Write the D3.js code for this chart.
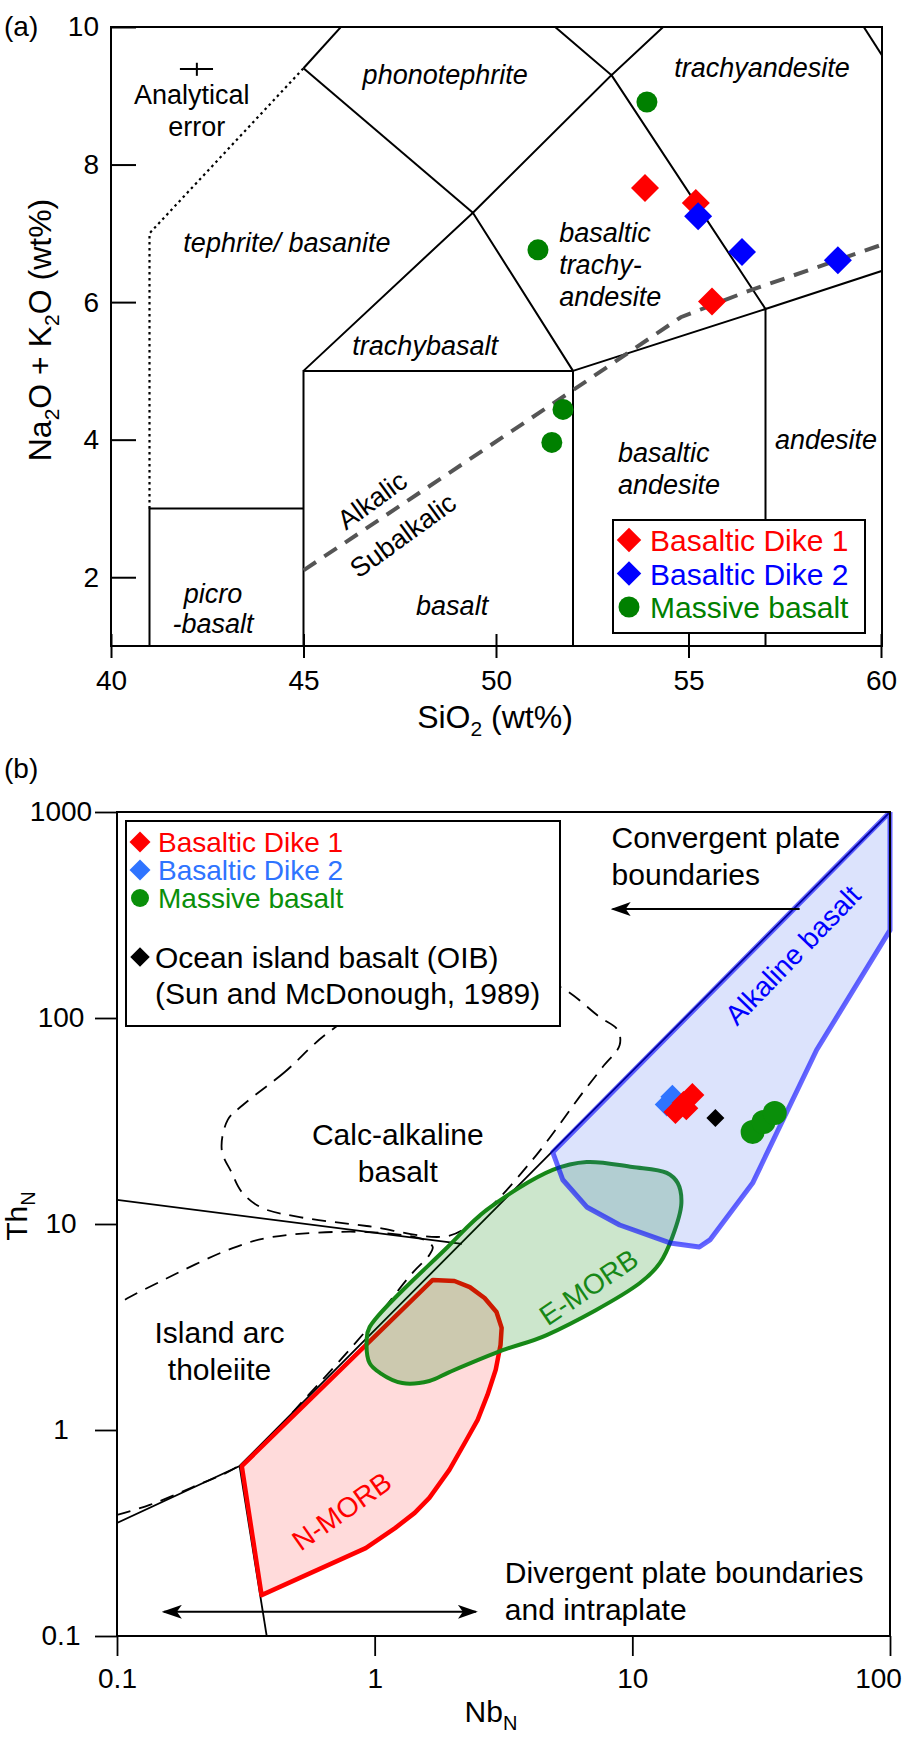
<!DOCTYPE html>
<html>
<head>
<meta charset="utf-8">
<script src="https://d3js.org/d3.v7.min.js"></script>
<style>
body { margin: 0; background: #fff; }
text { font-family: "Liberation Sans", Arial, sans-serif; fill: #000; }
</style>
</head>
<body>
<div id="chart"></div>
<script>
// ---------- (a) TAS data ----------
const tasXTicks = [40, 45, 50, 55, 60];
const tasYTicks = [2, 4, 6, 8, 10];
const dike1Tas = [[53.87, 7.66], [55.19, 7.44], [55.61, 6.01]];
const dike2Tas = [[55.25, 7.25], [56.39, 6.73], [58.88, 6.61]];
const massiveTas = [[53.92, 8.91], [51.09, 6.76], [51.74, 4.44], [51.45, 3.96]];

// field boundaries (SiO2, Na2O+K2O)
const tasLines = [
    [[41, 1], [41, 3], [45, 3]],
    [[45, 1], [45, 5], [52, 5], [52, 1]],
    [[52, 5], [57, 5.9], [57, 1]],
    [[57, 5.9], [63, 7]],
    [[45, 5], [49.4, 7.3], [52, 5]],
    [[49.4, 7.3], [53, 9.3], [57, 5.9]],
    [[45, 9.4], [49.4, 7.3]],
    [[45, 9.4], [48.4, 11.5]],
    [[48.4, 11.5], [53, 9.3], [57.6, 11.7]],
    [[57.6, 11.7], [63, 7]]
];
const tasDotted = [[41, 3], [41, 7], [45, 9.4]];
const alkalicLine = [[45, 2.1], [52, 4.72], [54.8, 5.78], [56.5, 6.15], [60, 6.83]];

const tasFieldNames = [
    {t: "phonotephrite", x: 48.68, y: 9.17, a: "middle"},
    {t: "trachyandesite", x: 56.91, y: 9.27, a: "middle"},
    {t: "tephrite/ basanite", x: 44.57, y: 6.73, a: "middle"},
    {t: "basaltic", x: 51.64, y: 6.87, a: "start"},
    {t: "trachy-", x: 51.64, y: 6.41, a: "start"},
    {t: "andesite", x: 51.64, y: 5.94, a: "start"},
    {t: "trachybasalt", x: 48.16, y: 5.23, a: "middle"},
    {t: "basaltic", x: 53.17, y: 3.67, a: "start"},
    {t: "andesite", x: 53.17, y: 3.21, a: "start"},
    {t: "andesite", x: 58.57, y: 3.86, a: "middle"},
    {t: "basalt", x: 48.86, y: 1.45, a: "middle"},
    {t: "picro", x: 42.65, y: 1.62, a: "middle"},
    {t: "-basalt", x: 42.65, y: 1.19, a: "middle"}
];

// ---------- (b) Th-Nb data ----------
const nbTicks = [0.1, 1, 10, 100];
const thTicks = [0.1, 1, 10, 100, 1000];
const dike1Nb = [[14.7, 35.0], [15.8, 38.7], [17.1, 42.3], [16.2, 36.5]];
const dike2Nb = [[13.6, 38.0], [14.3, 41.5]];
const massiveNb = [[29.3, 28.0], [32.3, 31.3], [35.7, 34.6]];
const oibNb = [[21.0, 32.7]];

const nMorb = [[0.305, 0.668], [1.68, 5.35], [2.04, 5.29], [2.34, 4.94], [2.67, 4.37], [2.97, 3.74],
    [3.11, 3.13], [3.08, 2.59], [2.95, 1.96], [2.74, 1.48], [2.51, 1.12], [2.27, 0.894], [1.95, 0.64],
    [1.63, 0.468], [1.43, 0.396], [1.20, 0.334], [0.923, 0.267], [0.364, 0.158]];
const eMorb = [[0.931, 2.73], [0.956, 2.11], [1.05, 1.89], [1.28, 1.69], [1.63, 1.73], [1.95, 1.91],
    [3.14, 2.44], [4.65, 2.89], [10.7, 5.17], [12.8, 6.47], [14.3, 8.65], [15.5, 12.6], [15.0, 15.8],
    [13.6, 17.7], [10.0, 18.9], [6.65, 20.0], [4.91, 18.3], [2.72, 11.7], [1.92, 7.73], [0.956, 3.16]];
const alkBasalt = [[4.91, 22.3], [100, 1000], [100, 267], [51.9, 69.9], [29.3, 15.8], [20.0, 8.37],
    [18.2, 7.73], [14.0, 8.09], [8.93, 9.89], [6.65, 12.1], [5.37, 16.4]];
const solidLines = [
    [[0.1, 0.354], [0.299, 0.669], [100, 1000]],
    [[0.299, 0.669], [0.381, 0.1]],
    [[0.1, 13.1], [2.18, 8.0]]
];
const calcAlkLoop = [[0.657, 84.6], [0.448, 54.7], [0.308, 37.8], [0.269, 32.0], [0.255, 22.9], [0.279, 17.7],
    [0.305, 14.3], [0.364, 12.0], [0.512, 10.8], [0.931, 9.78], [1.92, 8.74], [2.55, 10.8], [4.10, 20.5],
    [6.41, 43.3], [7.67, 57.8], [8.93, 73.9], [8.77, 87.5], [7.47, 101], [5.32, 140], [3.65, 162], [1.25, 137]];
const iatLine = [[0.1, 0.387], [0.134, 0.433], [0.197, 0.529], [0.308, 0.692], [0.545, 1.45], [0.931, 3.06],
    [1.40, 5.78], [1.63, 7.07], [1.68, 7.73], [1.56, 8.36], [0.931, 9.14], [0.402, 8.65], [0.281, 7.64],
    [0.146, 5.23], [0.107, 4.28], [0.1, 4.04]];

const W = 902, H = 1741;
const RED = "#ff0000", BLUE_A = "#0000ff", GREEN_A = "#008000";
const BLUE_B = "#2f74ff", GREEN_B = "#0a8f0a";

const svg = d3.select("#chart").append("svg").attr("width", W).attr("height", H);
const defs = svg.append("defs");

// diamond = square turned 45 degrees
function diamond(g, data, xs, ys, diag, color) {
    const side = diag / Math.SQRT2;
    g.selectAll(null).data(data).enter().append("path")
        .attr("d", d3.symbol(d3.symbolSquare, side * side))
        .attr("transform", d => `translate(${xs(d[0])},${ys(d[1])}) rotate(45)`)
        .attr("fill", color);
}
function dots(g, data, xs, ys, r, color) {
    g.selectAll(null).data(data).enter().append("circle")
        .attr("cx", d => xs(d[0])).attr("cy", d => ys(d[1])).attr("r", r)
        .attr("fill", color);
}

// ================= (a) =================
const ma = {left: 111, right: 881, top: 27, bottom: 646};
const xA = d3.scaleLinear().domain([40, 60]).range([ma.left, ma.right]);
const yA = d3.scaleLinear().domain([1, 10]).range([ma.bottom, ma.top]);
const lineA = d3.line().x(d => xA(d[0])).y(d => yA(d[1]));

defs.append("clipPath").attr("id", "clipA").append("rect")
    .attr("x", ma.left).attr("y", ma.top).attr("width", ma.right - ma.left + 1).attr("height", ma.bottom - ma.top);

const gA = svg.append("g");
const plotA = gA.append("g").attr("clip-path", "url(#clipA)");

plotA.selectAll(null).data(tasLines).enter().append("path")
    .attr("d", lineA).attr("fill", "none").attr("stroke", "#000").attr("stroke-width", 2);

plotA.append("path").attr("d", lineA(tasDotted)).attr("fill", "none")
    .attr("stroke", "#000").attr("stroke-width", 2.2).attr("stroke-dasharray", "2.5,3.5");

plotA.append("path").attr("d", lineA(alkalicLine)).attr("fill", "none")
    .attr("stroke", "#555").attr("stroke-width", 4).attr("stroke-dasharray", "15,10");

gA.selectAll(null).data(tasFieldNames).enter().append("text")
    .attr("x", d => xA(d.x)).attr("y", d => yA(d.y))
    .attr("text-anchor", d => d.a)
    .style("font-size", "27px").style("font-style", "italic")
    .text(d => d.t);

// analytical error cross
gA.append("line").attr("x1", xA(41.79)).attr("x2", xA(42.65)).attr("y1", yA(9.39)).attr("y2", yA(9.39))
    .attr("stroke", "#000").attr("stroke-width", 2);
gA.append("line").attr("x1", xA(42.23)).attr("x2", xA(42.23)).attr("y1", yA(9.48)).attr("y2", yA(9.29))
    .attr("stroke", "#000").attr("stroke-width", 2);
gA.append("text").attr("x", xA(42.1)).attr("y", yA(8.88)).attr("text-anchor", "middle")
    .style("font-size", "27px").text("Analytical");
gA.append("text").attr("x", xA(42.23)).attr("y", yA(8.41)).attr("text-anchor", "middle")
    .style("font-size", "27px").text("error");

gA.append("text").attr("text-anchor", "middle").style("font-size", "27px")
    .attr("transform", `translate(${xA(46.78)},${yA(3.12)}) rotate(-36)`)
    .attr("dy", "0.35em").text("Alkalic");
gA.append("text").attr("text-anchor", "middle").style("font-size", "27px")
    .attr("transform", `translate(${xA(47.58)},${yA(2.61)}) rotate(-36)`)
    .attr("dy", "0.35em").text("Subalkalic");

dots(gA, massiveTas, xA, yA, 10.5, GREEN_A);
diamond(gA, dike1Tas, xA, yA, 28, RED);
diamond(gA, dike2Tas, xA, yA, 28, BLUE_A);

// legend (a)
const legA = gA.append("g");
legA.append("rect").attr("x", 613).attr("y", 520).attr("width", 252).attr("height", 113)
    .attr("fill", "#fff").attr("stroke", "#000").attr("stroke-width", 2);
const legAItems = [
    {t: "Basaltic Dike 1", c: RED, s: "d"},
    {t: "Basaltic Dike 2", c: BLUE_A, s: "d"},
    {t: "Massive basalt", c: GREEN_A, s: "c"}
];
legAItems.forEach(function(d, i) {
    const cy = 540 + i * 33.5;
    if (d.s === "d") {
        legA.append("path").attr("d", d3.symbol(d3.symbolSquare, 300))
            .attr("transform", `translate(629,${cy}) rotate(45)`).attr("fill", d.c);
    } else {
        legA.append("circle").attr("cx", 629).attr("cy", cy).attr("r", 10.5).attr("fill", d.c);
    }
    legA.append("text").attr("x", 650).attr("y", cy + 11).style("font-size", "30px")
        .style("fill", d.c).text(d.t);
});

// frame + axes (a)
gA.append("rect").attr("x", ma.left).attr("y", ma.top).attr("width", ma.right + 1 - ma.left)
    .attr("height", ma.bottom - ma.top).attr("fill", "none").attr("stroke", "#000").attr("stroke-width", 2);

const axYA = gA.append("g").attr("transform", `translate(${ma.left},0)`)
    .call(d3.axisLeft(yA).tickValues(tasYTicks).tickSize(-25).tickPadding(12).tickFormat(d3.format("d")));
const axXA = gA.append("g").attr("transform", `translate(0,${ma.bottom})`)
    .call(d3.axisBottom(xA).tickValues(tasXTicks).tickSize(12).tickPadding(12).tickFormat(d3.format("d")));
[axYA, axXA].forEach(function(ax) {
    ax.select(".domain").remove();
    ax.selectAll(".tick line").attr("stroke", "#000").attr("stroke-width", 2);
    ax.selectAll(".tick text").style("font-size", "28px").attr("fill", "#000");
    ax.attr("font-family", null).attr("font-size", null);
});
axXA.selectAll(".tick line").attr("y1", -12).attr("y2", 12);

const ylabA = gA.append("text").attr("transform", `translate(51,330) rotate(-90)`)
    .attr("text-anchor", "middle").style("font-size", "32px");
ylabA.append("tspan").text("Na");
ylabA.append("tspan").attr("dy", 8).style("font-size", "21px").text("2");
ylabA.append("tspan").attr("dy", -8).text("O + K");
ylabA.append("tspan").attr("dy", 8).style("font-size", "21px").text("2");
ylabA.append("tspan").attr("dy", -8).text("O (wt%)");

const xlabA = gA.append("text").attr("x", 495).attr("y", 728).attr("text-anchor", "middle").style("font-size", "32px");
xlabA.append("tspan").text("SiO");
xlabA.append("tspan").attr("dy", 8).style("font-size", "21px").text("2");
xlabA.append("tspan").attr("dy", -8).text(" (wt%)");

svg.append("text").attr("x", 4).attr("y", 36).style("font-size", "28px").text("(a)");

// ================= (b) =================
const mb = {left: 117, right: 890, top: 812, bottom: 1636};
const xB = d3.scaleLog().domain([0.1, 100]).range([mb.left, mb.right]);
const yB = d3.scaleLog().domain([0.1, 1000]).range([mb.bottom, mb.top]);
const lineB = d3.line().x(d => xB(d[0])).y(d => yB(d[1]));
const smoothB = d3.line().x(d => xB(d[0])).y(d => yB(d[1])).curve(d3.curveCatmullRom.alpha(0.5));
const smoothClosedB = d3.line().x(d => xB(d[0])).y(d => yB(d[1])).curve(d3.curveCatmullRomClosed.alpha(0.5));

defs.append("clipPath").attr("id", "clipB").append("rect")
    .attr("x", mb.left).attr("y", mb.top).attr("width", mb.right - mb.left + 3).attr("height", mb.bottom - mb.top);

const gB = svg.append("g");
const plotB = gB.append("g").attr("clip-path", "url(#clipB)");

plotB.selectAll(null).data(solidLines).enter().append("path")
    .attr("d", lineB).attr("fill", "none").attr("stroke", "#000").attr("stroke-width", 1.8);

plotB.append("path").attr("d", smoothClosedB(calcAlkLoop))
    .attr("fill", "none").attr("stroke", "#000").attr("stroke-width", 1.8).attr("stroke-dasharray", "14,9");
plotB.append("path").attr("d", smoothB(iatLine))
    .attr("fill", "none").attr("stroke", "#000").attr("stroke-width", 1.8).attr("stroke-dasharray", "14,9");

// fields
plotB.append("path").attr("d", lineB(nMorb) + "Z")
    .attr("fill", "rgba(255,0,0,0.14)").attr("stroke", RED).attr("stroke-width", 4.5).attr("stroke-linejoin", "round");
plotB.append("path").attr("d", smoothClosedB(eMorb))
    .attr("fill", "rgba(0,128,0,0.2)").attr("stroke", "#178817").attr("stroke-width", 4);
plotB.append("path").attr("d", lineB(alkBasalt) + "Z")
    .attr("fill", "rgba(60,100,240,0.18)").attr("stroke", "rgba(0,0,255,0.6)").attr("stroke-width", 5)
    .attr("stroke-linejoin", "round");

// field names
gB.append("text").attr("transform", `translate(${xB(0.745)},${yB(0.404)}) rotate(-35)`)
    .attr("text-anchor", "middle").attr("dy", "0.35em").style("font-size", "28px").style("fill", RED).text("N-MORB");
gB.append("text").attr("transform", `translate(${xB(6.77)},${yB(4.94)}) rotate(-34)`)
    .attr("text-anchor", "middle").attr("dy", "0.35em").style("font-size", "28px").style("fill", "#178817").text("E-MORB");
gB.append("text").attr("transform", `translate(${xB(41.9)},${yB(202)}) rotate(-46)`)
    .attr("text-anchor", "middle").attr("dy", "0.35em").style("font-size", "28px").style("fill", BLUE_A).text("Alkaline basalt");

const blackLabels = [
    {t: "Convergent plate", x: 8.31, y: 668, a: "start"},
    {t: "boundaries", x: 8.31, y: 442, a: "start"},
    {t: "Calc-alkaline", x: 1.23, y: 24.2, a: "middle"},
    {t: "basalt", x: 1.23, y: 16.0, a: "middle"},
    {t: "Island arc", x: 0.25, y: 2.64, a: "middle"},
    {t: "tholeiite", x: 0.25, y: 1.75, a: "middle"},
    {t: "Divergent plate boundaries", x: 3.2, y: 0.181, a: "start"},
    {t: "and intraplate", x: 3.2, y: 0.120, a: "start"}
];
gB.selectAll(null).data(blackLabels).enter().append("text")
    .attr("x", d => xB(d.x)).attr("y", d => yB(d.y)).attr("text-anchor", d => d.a)
    .style("font-size", "30px").text(d => d.t);

// arrows
const mk = defs.append("marker").attr("id", "arr").attr("viewBox", "0 0 20 14")
    .attr("refX", 18).attr("refY", 7).attr("markerWidth", 20).attr("markerHeight", 14)
    .attr("markerUnits", "userSpaceOnUse").attr("orient", "auto-start-reverse");
mk.append("path").attr("d", "M0,0 L20,7 L0,14 L5,7 Z").attr("fill", "#000");

gB.append("line").attr("x1", xB(44.6)).attr("x2", xB(8.39)).attr("y1", yB(338)).attr("y2", yB(338))
    .attr("stroke", "#000").attr("stroke-width", 2).attr("marker-end", "url(#arr)");
gB.append("line").attr("x1", xB(0.152)).attr("x2", xB(2.47)).attr("y1", yB(0.131)).attr("y2", yB(0.131))
    .attr("stroke", "#000").attr("stroke-width", 2)
    .attr("marker-start", "url(#arr)").attr("marker-end", "url(#arr)");

// samples
diamond(gB, dike2Nb, xB, yB, 24, BLUE_B);
diamond(gB, dike1Nb, xB, yB, 24, RED);
diamond(gB, oibNb, xB, yB, 18, "#000");
dots(gB, massiveNb, xB, yB, 12, GREEN_B);

// legend (b)
const legB = gB.append("g");
legB.append("rect").attr("x", 126).attr("y", 821).attr("width", 434).attr("height", 205)
    .attr("fill", "#fff").attr("stroke", "#000").attr("stroke-width", 2);
const legBItems = [
    {t: "Basaltic Dike 1", c: RED, s: "d", y: 842, x: 158},
    {t: "Basaltic Dike 2", c: BLUE_B, s: "d", y: 870, x: 158},
    {t: "Massive basalt", c: GREEN_B, s: "c", y: 898, x: 158}
];
legBItems.forEach(function(d) {
    if (d.s === "c") {
        legB.append("circle").attr("cx", 140).attr("cy", d.y).attr("r", 9).attr("fill", d.c);
    } else {
        legB.append("path").attr("d", d3.symbol(d3.symbolSquare, 220))
            .attr("transform", `translate(140,${d.y}) rotate(45)`).attr("fill", d.c);
    }
    legB.append("text").attr("x", d.x).attr("y", d.y + 10).style("font-size", "28px")
        .style("fill", d.c).text(d.t);
});
legB.append("path").attr("d", d3.symbol(d3.symbolSquare, 190))
    .attr("transform", "translate(140,957) rotate(45)").attr("fill", "#000");
legB.append("text").attr("x", 155).attr("y", 968).style("font-size", "30px").text("Ocean island basalt (OIB)");
legB.append("text").attr("x", 155).attr("y", 1004).style("font-size", "30px").text("(Sun and McDonough, 1989)");

// frame + axes (b)
gB.append("rect").attr("x", mb.left).attr("y", mb.top).attr("width", mb.right - mb.left)
    .attr("height", mb.bottom - mb.top).attr("fill", "none").attr("stroke", "#000").attr("stroke-width", 2);

function logAxis(ax, majors, isY) {
    ax.select(".domain").remove();
    ax.selectAll(".tick line").attr("stroke", "#000").attr("stroke-width", 1.8);
    ax.selectAll(".tick").filter(d => majors.indexOf(d) === -1).select("line")
        .attr(isY ? "x2" : "y2", isY ? -14 : 13);
    ax.selectAll(".tick text").style("font-size", "28px").attr("fill", "#000");
    ax.attr("font-family", null).attr("font-size", null);
}

const axYB = gB.append("g").attr("transform", `translate(${mb.left},0)`)
    .call(d3.axisLeft(yB).ticks(4).tickSize(22).tickPadding(12).tickFormat(d => thTicks.indexOf(d) > -1 ? String(d) : ""));
logAxis(axYB, thTicks, true);
axYB.selectAll(".tick text").attr("text-anchor", "middle").attr("x", 61 - mb.left);

const axXB = gB.append("g").attr("transform", `translate(0,${mb.bottom})`)
    .call(d3.axisBottom(xB).ticks(3).tickSize(20).tickPadding(12).tickFormat(d => nbTicks.indexOf(d) > -1 ? String(d) : ""));
logAxis(axXB, nbTicks, false);
axXB.selectAll(".tick text").filter(d => d === 100).attr("dx", -12);

const ylabB = gB.append("text").attr("transform", `translate(27,1216) rotate(-90)`)
    .attr("text-anchor", "middle").style("font-size", "30px");
ylabB.append("tspan").text("Th");
ylabB.append("tspan").attr("dy", 8).style("font-size", "20px").text("N");

const xlabB = gB.append("text").attr("x", 491).attr("y", 1722).attr("text-anchor", "middle").style("font-size", "30px");
xlabB.append("tspan").text("Nb");
xlabB.append("tspan").attr("dy", 8).style("font-size", "20px").text("N");

svg.append("text").attr("x", 4).attr("y", 778).style("font-size", "28px").text("(b)");
</script>
</body>
</html>
